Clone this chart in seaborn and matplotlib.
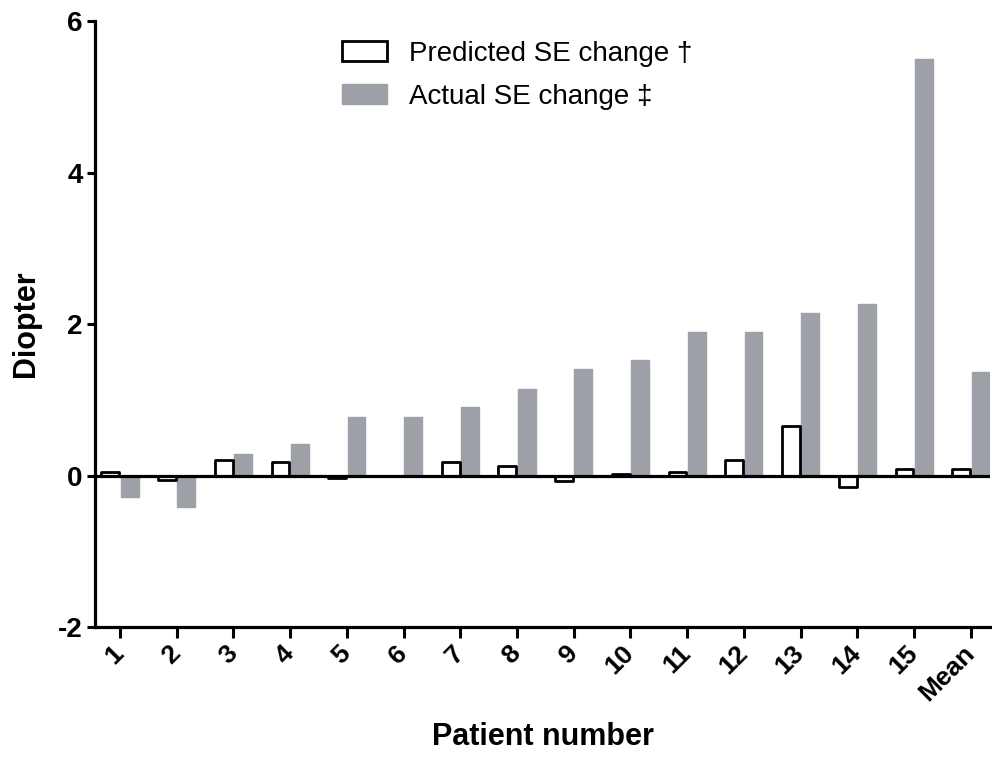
import matplotlib
matplotlib.use("Agg")
import matplotlib.pyplot as plt
import seaborn as sns
import pandas as pd
from matplotlib.patches import Patch

categories = ["1", "2", "3", "4", "5", "6", "7", "8", "9", "10",
              "11", "12", "13", "14", "15", "Mean"]
predicted = [0.05, -0.06, 0.20, 0.18, -0.03, 0.0, 0.18, 0.13, -0.07, 0.02,
             0.05, 0.20, 0.65, -0.15, 0.08, 0.08]
actual = [-0.29, -0.42, 0.28, 0.41, 0.77, 0.77, 0.90, 1.14, 1.40, 1.53,
          1.90, 1.90, 2.15, 2.27, 5.50, 1.36]
series_names = ["Predicted SE change \u2020", "Actual SE change \u2021"]

sns.set_style("ticks")
plt.rcParams["font.family"] = ["Liberation Sans", "DejaVu Sans"]
plt.rcParams["axes.unicode_minus"] = False
for k in ["text.color", "axes.labelcolor", "xtick.color", "ytick.color"]:
    plt.rcParams[k] = "black"

df = pd.DataFrame({
    "patient": categories * 2,
    "value": predicted + actual,
    "series": [series_names[0]] * len(categories) + [series_names[1]] * len(categories),
})

gray = "#9ea0a7"
fig = plt.figure(figsize=(9.92, 7.59), dpi=100)
ax = fig.add_axes([0.0958, 0.1739, 0.9022, 0.7984])

sns.barplot(data=df, x="patient", y="value", hue="series", order=categories,
            hue_order=series_names, palette=["white", gray], width=0.68,
            gap=0.08, ax=ax, legend=False)

for patch in ax.containers[0]:
    patch.set_facecolor("white")
    patch.set_edgecolor("black")
    patch.set_linewidth(2.0)
    patch.set_joinstyle("round")
    patch.set_zorder(3)
for patch in ax.containers[1]:
    patch.set_facecolor(gray)
    patch.set_edgecolor(gray)
    patch.set_linewidth(1.0)
    patch.set_joinstyle("round")
    patch.set_zorder(2)

ax.axhline(0, color="black", lw=2.3, zorder=4)
ax.set_ylim(-2, 6)
ax.set_yticks([-2, 0, 2, 4, 6])
ax.set_xlim(-0.44, 15.34)

for side in ["top", "right"]:
    ax.spines[side].set_visible(False)
for side in ["left", "bottom"]:
    ax.spines[side].set_linewidth(2.3)
    ax.spines[side].set_color("black")

ax.tick_params(axis="y", length=6, width=2.2, labelsize=20, pad=3)
ax.tick_params(axis="x", length=8, width=2.2, labelsize=19, pad=8)
for lab in ax.get_yticklabels():
    lab.set_fontweight("bold")
ax.set_xticks(range(len(categories)))
ax.set_xticklabels(categories, rotation=45, ha="right", va="center",
                   rotation_mode="anchor", fontweight="bold", fontsize=19)

ax.set_xlabel("Patient number", fontsize=22, fontweight="bold", labelpad=12)
ax.set_ylabel("Diopter", fontsize=22, fontweight="bold", labelpad=12)

handles = [Patch(facecolor="white", edgecolor="black", linewidth=2.0),
           Patch(facecolor=gray, edgecolor=gray)]
fig.legend(handles, series_names, loc="upper left",
           bbox_to_anchor=(0.345, 0.946), frameon=False, fontsize=20,
           handlelength=1.6, handleheight=0.75, handletextpad=0.8,
           labelspacing=0.6, borderpad=0, borderaxespad=0)

fig.savefig("out.png", dpi=100)
